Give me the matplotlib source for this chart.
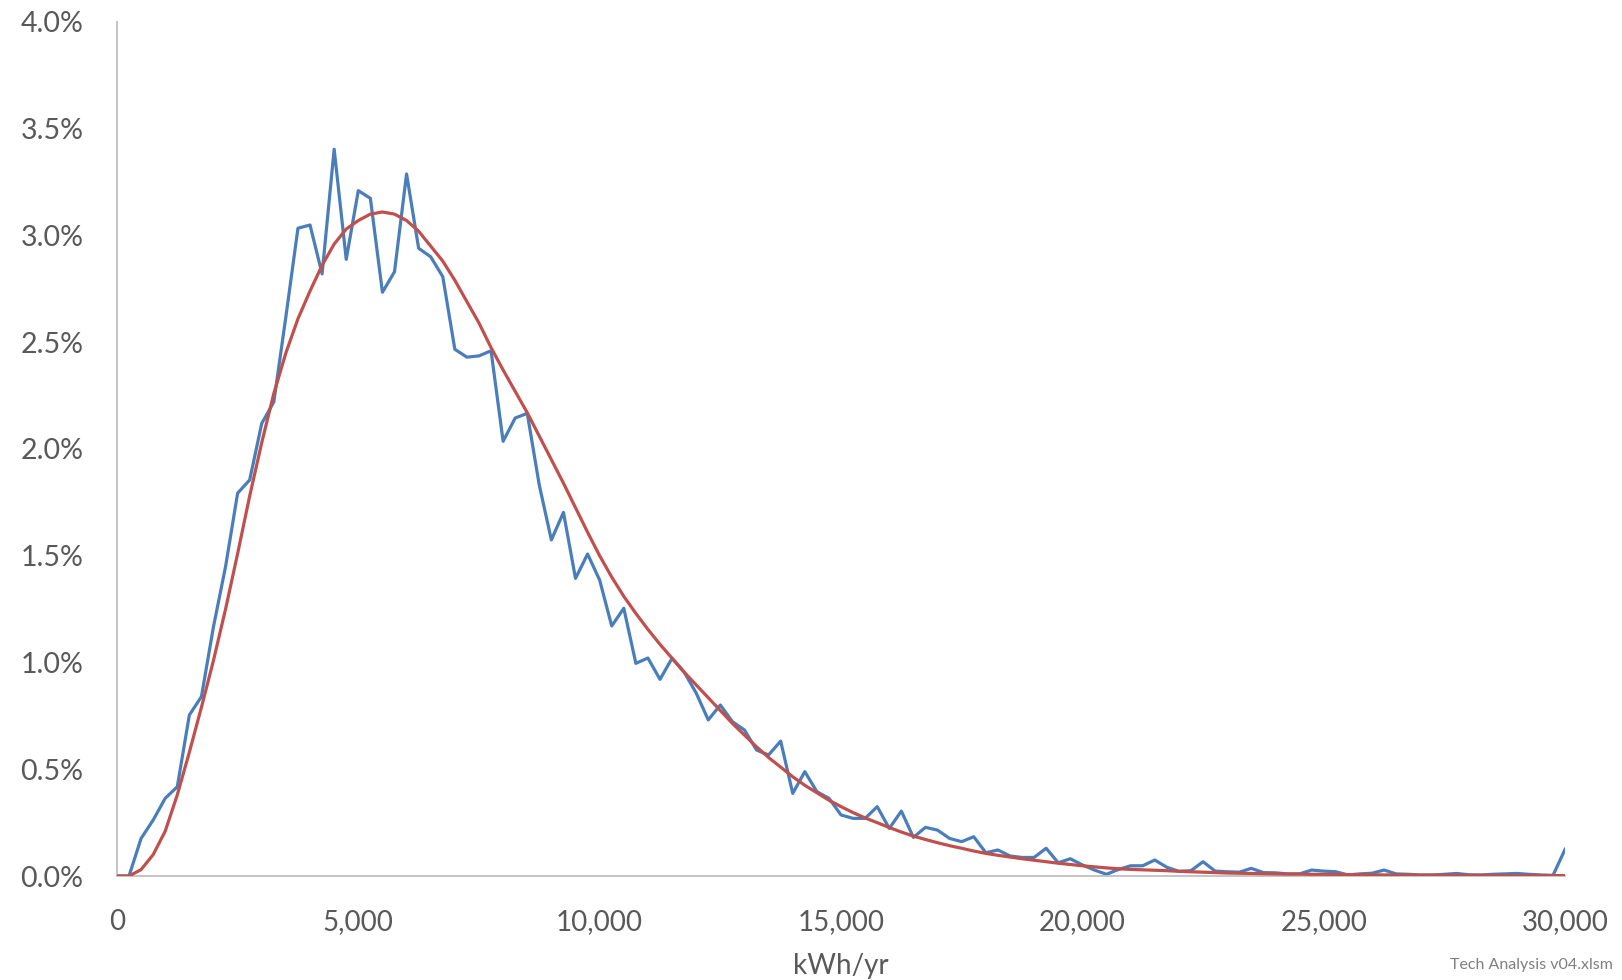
import matplotlib
matplotlib.use("Agg")
import matplotlib.pyplot as plt
from matplotlib.ticker import FuncFormatter, MultipleLocator

# Annual consumption bins (kWh/yr), 250 kWh wide
kwh = list(range(0, 30001, 250))

# Observed share of customers per bin (%)
observed = [
    0.000, 0.000, 0.176, 0.262, 0.364, 0.418, 0.754, 0.840, 1.168, 1.449,
    1.793, 1.855, 2.120, 2.220, 2.620, 3.034, 3.049, 2.820, 3.404, 2.888,
    3.210, 3.174, 2.734, 2.830, 3.288, 2.940, 2.900, 2.807, 2.467, 2.430,
    2.436, 2.460, 2.036, 2.145, 2.167, 1.830, 1.574, 1.703, 1.394, 1.508,
    1.386, 1.171, 1.254, 0.996, 1.021, 0.921, 1.020, 0.955, 0.857, 0.731,
    0.801, 0.723, 0.684, 0.590, 0.567, 0.632, 0.387, 0.489, 0.395, 0.364,
    0.286, 0.270, 0.270, 0.325, 0.223, 0.304, 0.181, 0.228, 0.215, 0.176,
    0.161, 0.184, 0.109, 0.122, 0.094, 0.087, 0.087, 0.130, 0.062, 0.081,
    0.052, 0.028, 0.008, 0.031, 0.048, 0.048, 0.075, 0.041, 0.022, 0.025,
    0.067, 0.023, 0.020, 0.018, 0.036, 0.016, 0.015, 0.010, 0.010, 0.028,
    0.023, 0.020, 0.005, 0.010, 0.013, 0.028, 0.010, 0.008, 0.005, 0.005,
    0.008, 0.012, 0.006, 0.005, 0.008, 0.010, 0.012, 0.008, 0.005, 0.003,
    0.125,
]

# Fitted distribution share per bin (%)
fitted = [
    0.000, 0.000, 0.030, 0.100, 0.210, 0.380, 0.580, 0.790, 1.010, 1.250,
    1.510, 1.780, 2.030, 2.260, 2.450, 2.610, 2.740, 2.860, 2.960, 3.030,
    3.070, 3.100, 3.110, 3.100, 3.070, 3.020, 2.950, 2.880, 2.790, 2.690,
    2.590, 2.475, 2.370, 2.270, 2.170, 2.060, 1.950, 1.840, 1.725, 1.610,
    1.500, 1.400, 1.310, 1.230, 1.155, 1.085, 1.020, 0.955, 0.895, 0.835,
    0.775, 0.715, 0.660, 0.605, 0.555, 0.510, 0.465, 0.425, 0.390, 0.355,
    0.325, 0.297, 0.272, 0.250, 0.227, 0.206, 0.187, 0.171, 0.156, 0.142,
    0.130, 0.117, 0.106, 0.097, 0.089, 0.081, 0.074, 0.067, 0.060, 0.054,
    0.048, 0.043, 0.038, 0.034, 0.031, 0.029, 0.027, 0.025, 0.022, 0.020,
    0.018, 0.016, 0.014, 0.013, 0.012, 0.011, 0.010, 0.009, 0.009, 0.008,
    0.008, 0.007, 0.007, 0.006, 0.006, 0.005, 0.005, 0.005, 0.004, 0.004,
    0.004, 0.003, 0.003, 0.003, 0.003, 0.002, 0.002, 0.002, 0.002, 0.002,
    0.002,
]

x_ticks = [0, 5000, 10000, 15000, 20000, 25000, 30000]

plt.rcParams['font.family'] = ['Lato', 'DejaVu Sans']
text_grey = '#595959'
axis_grey = '#bfbfbf'

fig = plt.figure(figsize=(16.22, 9.8), dpi=100)
ax = fig.add_axes([0.0721, 0.1061, 0.8928, 0.8715])

ax.plot(kwh, observed, color='#4a7ebb', lw=2.3, solid_joinstyle='round', zorder=2)
ax.plot(kwh, fitted, color='#c0504d', lw=2.3, solid_joinstyle='round', zorder=3)

ax.set_xlim(0, 30000)
ax.set_ylim(0, 4.0)
ax.set_xticks(x_ticks)
ax.yaxis.set_major_locator(MultipleLocator(0.5))
ax.xaxis.set_major_formatter(FuncFormatter(lambda v, p: f"{int(v):,}"))
ax.yaxis.set_major_formatter(FuncFormatter(lambda v, p: f"{v:.1f}%"))

for side in ('top', 'right'):
    ax.spines[side].set_visible(False)
for side in ('left', 'bottom'):
    ax.spines[side].set_color(axis_grey)
    ax.spines[side].set_linewidth(1.3)

ax.tick_params(axis='both', length=0, labelsize=20, labelcolor=text_grey)
ax.tick_params(axis='y', pad=24, labelsize=20.5)
ax.tick_params(axis='x', pad=24)

ax.set_xlabel('kWh/yr', fontsize=20, color=text_grey, labelpad=13)

fig.text(0.9945, 0.008, 'Tech Analysis v04.xlsm', ha='right', va='bottom',
         fontsize=11.5, color='#7f7f7f')

fig.savefig('out.png', dpi=100)
